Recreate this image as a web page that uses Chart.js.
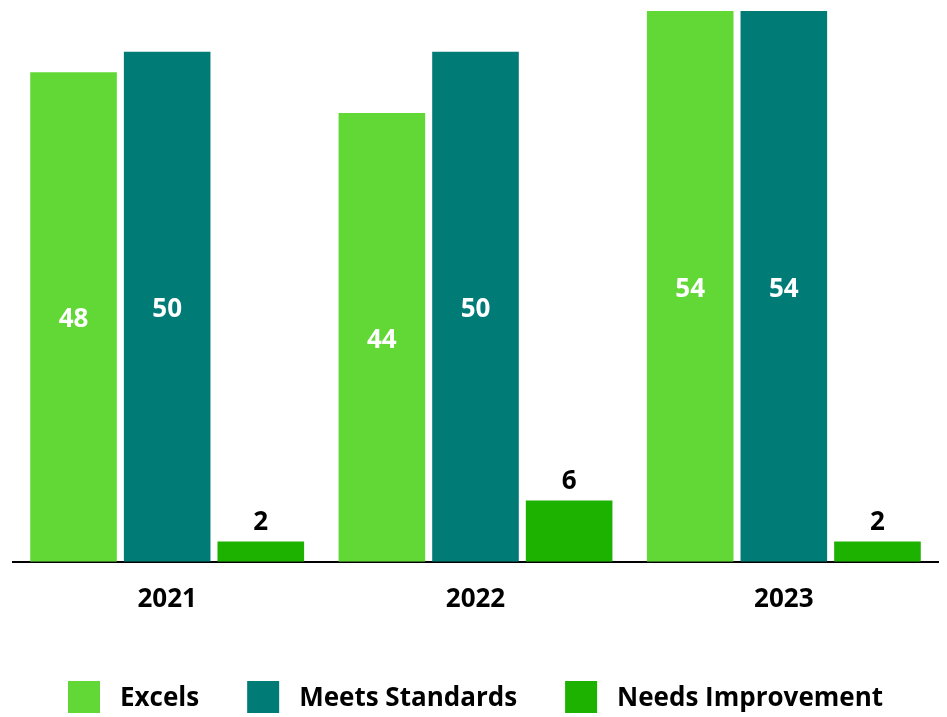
<!DOCTYPE html>
<html>
<head>
<meta charset="utf-8">
<script src="https://cdn.jsdelivr.net/npm/chart.js@4.4.1/dist/chart.umd.min.js"></script>
<style>
    html, body { margin: 0; padding: 0; background: #ffffff; }
    #chart { display: block; }
</style>
</head>
<body>
<canvas id="chart" width="947" height="717"></canvas>
<script>
const years = ['2021', '2022', '2023'];
const excels = [48, 44, 54];
const meetsStandards = [50, 50, 54];
const needsImprovement = [2, 6, 2];

const fontFamily = '"Open Sans", "Noto Sans", sans-serif';
const fontWeight = '700';

// value labels: white and centred inside tall bars, black above short ones
const barValueLabels = {
    id: 'barValueLabels',
    afterDatasetsDraw: (chart) => {
        const ctx = chart.ctx;
        ctx.save();
        ctx.font = `${fontWeight} 26px ${fontFamily}`;
        ctx.textAlign = 'center';
        ctx.textBaseline = 'middle';
        chart.data.datasets.forEach((dataset, i) => {
            chart.getDatasetMeta(i).data.forEach((bar, j) => {
                const value = dataset.data[j];
                const h = bar.base - bar.y;
                if (h > 100) {
                    ctx.fillStyle = '#ffffff';
                    ctx.fillText(String(value), bar.x, (bar.y + bar.base) / 2 + 3);
                } else {
                    ctx.fillStyle = '#000000';
                    ctx.fillText(String(value), bar.x, bar.y - 19);
                }
            });
        });
        ctx.restore();
    }
};

// legend row under the axis: 32px swatches, 20px to the text, 48px between items
const bottomLegend = {
    id: 'bottomLegend',
    afterDraw: (chart) => {
        const ctx = chart.ctx;
        const box = 32, gap = 20, itemGap = 48;
        const cy = chart.height - 20;
        ctx.save();
        ctx.font = `${fontWeight} 26px ${fontFamily}`;
        ctx.textBaseline = 'middle';
        ctx.textAlign = 'left';
        const items = chart.data.datasets.map(ds => ({
            text: ds.label,
            color: ds.backgroundColor,
            w: box + gap + ctx.measureText(ds.label).width
        }));
        const total = items.reduce((s, it) => s + it.w, 0) + itemGap * (items.length - 1);
        let x = (chart.width - total) / 2 + 2;
        items.forEach(it => {
            ctx.fillStyle = it.color;
            ctx.fillRect(x, cy - box / 2, box, box);
            ctx.fillStyle = '#000000';
            ctx.fillText(it.text, x + box + gap, cy + 2);
            x += it.w + itemGap;
        });
        ctx.restore();
    }
};

const chart = new Chart(document.getElementById('chart').getContext('2d'), {
    type: 'bar',
    data: {
        labels: years,
        datasets: [
            { label: 'Excels', data: excels, backgroundColor: '#61D836' },
            { label: 'Meets Standards', data: meetsStandards, backgroundColor: '#017B76' },
            { label: 'Needs Improvement', data: needsImprovement, backgroundColor: '#1DB100' }
        ]
    },
    options: {
        responsive: false,
        animation: false,
        devicePixelRatio: 1,
        layout: {
            padding: { top: 11, left: 13, right: 9, bottom: 80 }
        },
        datasets: {
            bar: {
                categoryPercentage: 0.911,
                barPercentage: 0.925,
                borderWidth: 0
            }
        },
        scales: {
            x: {
                grid: { display: false, drawTicks: false },
                border: { display: true, color: '#000000', width: 2 },
                ticks: {
                    color: '#000000',
                    padding: 22,
                    font: { size: 26, weight: fontWeight, family: fontFamily }
                }
            },
            y: {
                display: false,
                min: 0,
                max: 54
            }
        },
        plugins: {
            legend: { display: false },
            tooltip: { enabled: false }
        }
    },
    plugins: [barValueLabels, bottomLegend]
});
</script>
</body>
</html>
